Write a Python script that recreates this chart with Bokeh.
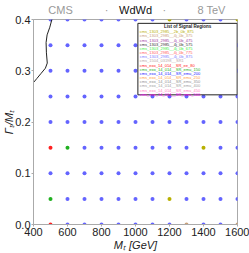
from bokeh.plotting import figure
from bokeh.models import ColumnDataSource, Range1d, FixedTicker, LinearAxis
from bokeh.core.properties import value
from bokeh.embed import file_html
from bokeh.resources import INLINE

masses = [500, 600, 700, 800, 900, 1000, 1100, 1200, 1300, 1400, 1500, 1600]
widths = [0.0, 0.05, 0.1, 0.15, 0.2, 0.25, 0.3, 0.35, 0.4]

regions = ["cms_1303_2985__2b_0b_875", "cms_1303_2985__4j_0b_375", "cms_1303_2985__4j_0b_475",
           "cms_1303_2985__4j_0b_575", "cms_1303_2985__4j_0b_675", "cms_1303_2985__4j_0b_775",
           "cms_1303_2985__4j_0b_875", "cms_1504_03198__SR1", "cms_exo_14_014__SR_ee_80",
           "cms_exo_14_014__SR_emu_150", "cms_exo_14_014__SR_emu_200", "cms_exo_14_014__SR_emu_250",
           "cms_exo_14_014__SR_emu_350", "cms_exo_14_014__SR_emu_400", "cms_exo_14_014__SR_emu_450",
           "cms_exo_14_014__SR_emu_500"]
region_colors = ["#b8b000", "#c8a07a", "#a040a0", "#303030", "#40f040", "#ff6060", "#8080ff",
                 "#b8a8a8", "#ff2020", "#20b020", "#2020ff", "#ffa040", "#909090", "#a0a0a0",
                 "#ff80c0", "#ff00ff"]
default_region = 6

# best signal region per grid point (only non-default ones listed)
special_mass = [500, 500, 600, 500, 1200, 1400, 1200, 1600, 1300, 1600]
special_width = [0.0, 0.15, 0.15, 0.05, 0.05, 0.15, 0.4, 0.4, 0.0, 0.0]
special_region = [8, 8, 9, 9, 0, 0, 0, 0, 1, 1]

# exclusion contour
excl_mass = [508, 496, 480, 474, 476, 481, 470, 445, 420, 400]
excl_width = [0.40, 0.385, 0.37, 0.355, 0.335, 0.315, 0.305, 0.295, 0.285, 0.277]

x_ticks = [400, 600, 800, 1000, 1200, 1400, 1600]
y_ticks = [0.0, 0.1, 0.2, 0.3, 0.4]

# header texts (placed along the top edge)
header_labels = ["CMS", "·", "·", "8 TeV"]
header_pos = [559, 830, 1170, 1447]
header_center = "WdWd"

xs, ys, cs = [], [], []
for w in widths:
    for m in masses:
        r = default_region
        for sm, sw, sr in zip(special_mass, special_width, special_region):
            if sm == m and abs(sw - w) < 1e-9:
                r = sr
        xs.append(m); ys.append(w)
        cs.append("#6464ff" if r == default_region else region_colors[r])

p = figure(width=249, height=253, output_backend="svg", toolbar_location=None,
           x_range=Range1d(400, 1600), y_range=Range1d(0, 0.4),
           min_border_left=26, min_border_right=12, min_border_top=16, min_border_bottom=24)
p.xgrid.visible = False
p.ygrid.visible = False
p.outline_line_color = "#aaaaaa"
p.background_fill_color = "white"
p.border_fill_color = "white"

for ax in (p.xaxis[0], p.yaxis[0]):
    ax.axis_line_color = "#aaaaaa"
    ax.major_tick_line_color = "#aaaaaa"
    ax.major_tick_out = 2
    ax.major_tick_in = 0
    ax.minor_tick_line_color = None
    ax.major_label_text_font = "Liberation Sans"
    ax.major_label_text_font_size = "11px"
    ax.major_label_text_color = "#222222"
    ax.major_label_standoff = 1
    ax.axis_label_text_font = "Liberation Sans"
    ax.axis_label_text_font_size = "11px"
    ax.axis_label_text_font_style = "italic"
    ax.axis_label_text_color = "#222222"
p.xaxis.ticker = FixedTicker(ticks=x_ticks)
p.yaxis.ticker = FixedTicker(ticks=y_ticks)
p.xaxis.major_label_overrides = {t: str(t) for t in x_ticks}
p.yaxis.major_label_overrides = {t: "%.1f" % t for t in y_ticks}
p.xaxis.axis_label = "Mₜ [GeV]"
p.xaxis.axis_label_standoff = 0
p.yaxis.axis_label = "Γₜ/Mₜ"
p.yaxis.axis_label_standoff = -3

top = LinearAxis(ticker=FixedTicker(ticks=header_pos),
                 major_label_overrides={t: s for t, s in zip(header_pos, header_labels)},
                 axis_line_color=None, major_tick_line_color=None, minor_tick_line_color=None,
                 major_tick_out=0, major_tick_in=0, major_label_standoff=4,
                 major_label_text_font="Liberation Sans", major_label_text_font_size="11px",
                 major_label_text_color="#999999",
                 axis_label=header_center, axis_label_standoff=-15,
                 axis_label_text_font="Liberation Sans", axis_label_text_font_size="11px",
                 axis_label_text_font_style="normal", axis_label_text_color="#111111")
p.add_layout(top, "above")

p.scatter(xs, ys, size=4, color=cs, line_width=0)
p.line(excl_mass, excl_width, color="#222222", line_width=1)

# legend box (drawn over the dots)
p.quad(left=[1014], right=[1598], top=[0.3925], bottom=[0.253],
       fill_color="white", line_color="#222222", line_width=1)
p.text(x=[1306], y=[0.3865], text=["List of Signal Regions"], text_font=value("Liberation Sans"),
       text_font_size="4.5px", text_font_style="bold", text_align="center",
       text_baseline="middle", text_color="#222222")
step = (0.3865 - 0.2565) / 16.0
leg_y = [0.3865 - step * 1.3 - i * step for i in range(len(regions))]
src = ColumnDataSource(dict(x=[1025] * len(regions), y=leg_y, t=regions, c=region_colors))
p.text(x="x", y="y", text="t", text_color="c", source=src, text_font=value("Liberation Sans"),
       text_font_size="4px", text_baseline="middle", text_align="left")

open("out.html", "w").write(file_html(p, INLINE))
